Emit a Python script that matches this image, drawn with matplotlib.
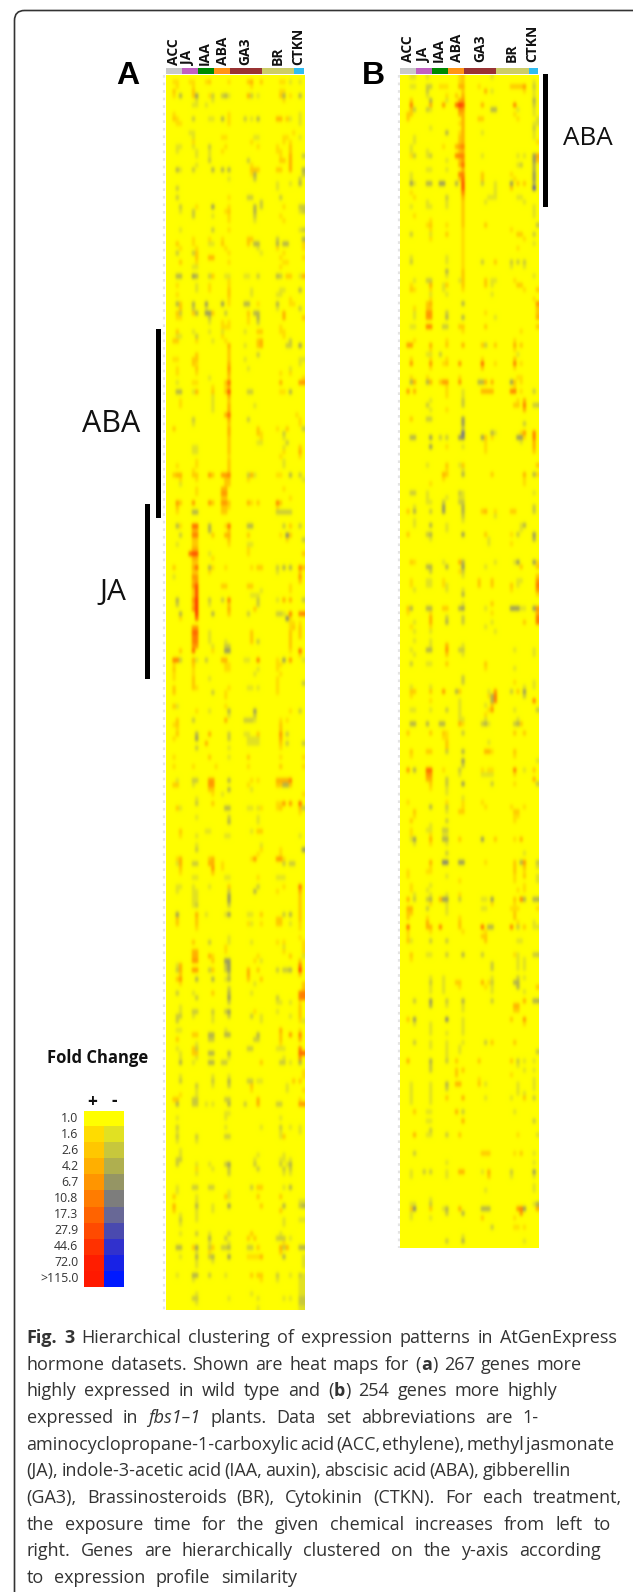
import re
import numpy as np
import matplotlib
matplotlib.use("Agg")
import matplotlib.pyplot as plt
from matplotlib.colors import LinearSegmentedColormap, Normalize
from matplotlib.path import Path
from matplotlib.patches import PathPatch, Rectangle

W, H = 633, 1592

# ---------- categories ----------
TREATMENTS = ["ACC", "JA", "IAA", "ABA", "GA3", "BR", "CTKN"]
TREATMENT_COLUMNS = [5, 5, 5, 5, 10, 10, 3]
TREATMENT_COLORS = ["#c8c8c8", "#c060c0", "#008a00", "#ff9414", "#993333", "#cccc66", "#30bcf0"]
A_GENES, B_GENES = 267, 254

FOLD_LEVELS = [1.0, 1.6, 2.6, 4.2, 6.7, 10.8, 17.3, 27.9, 44.6, 72.0, 115.0]
LEGEND_LABELS = ["1.0", "1.6", "2.6", "4.2", "6.7", "10.8", "17.3", "27.9", "44.6", "72.0", ">115.0"]
UP_COLORS = ["#ffff00", "#ffdc00", "#ffc800", "#ffaf00", "#ff9600", "#ff7d00", "#ff6400", "#ff4b00", "#ff3200", "#ff1e00", "#ff1900"]
DOWN_COLORS = ["#ffff00", "#e1e123", "#c8c83c", "#afaf50", "#969664", "#7d7d7d", "#696996", "#4b4baf", "#3232cd", "#1923e6", "#0019ff"]

# ---------- heat map A: (gene row, {column: signed fold change}) ----------
A_TOP = [
 (1,{2:1.6,3:1.6,7:1.6,8:1.6,12:1.6,13:2.6,19:1.6,25:2.6,26:4.2,29:2.6,35:1.6,36:1.6,38:-1.6,41:-1.6}),
 (2,{3:1.6,8:1.6,26:1.6}),(3,{2:2.6,8:2.6,35:1.6,36:1.6}),
 (4,{2:1.6,4:-4.2,8:2.6,9:-6.7,13:1.6,14:-2.6,17:-2.6,18:-4.2,19:-1.6,25:4.2,26:-2.6,28:-1.6,35:2.6,36:-4.2,38:1.6,41:-4.2}),
 (5,{9:-1.6,14:-1.6,36:1.6}),(6,{8:-1.6,9:-1.6,12:-1.6}),
 (8,{2:1.6,19:1.6,41:-1.6}),(9,{2:2.6,3:1.6,8:-2.6,13:-1.6,14:-1.6,17:-4.2,19:1.6,24:-2.6,26:-1.6,28:-4.2,34:4.2,35:4.2,37:2.6,38:-1.6,41:-1.6}),
 (10,{3:1.6,4:1.6,19:1.6,41:-1.6}),(12,{7:-1.6,8:-1.6,39:1.6}),(13,{8:-1.6,17:1.6,18:1.6,27:-1.6,28:-1.6,36:1.6,37:1.6,41:-1.6}),
 (14,{8:1.6,26:1.6,36:1.6,38:1.6}),(15,{3:-1.6,4:-1.6,8:-1.6,13:-2.6,18:1.6,28:1.6,34:1.6,38:2.6}),
 (16,{3:-1.6,9:-1.6,13:-1.6,17:1.6,34:1.6,35:1.6,38:2.6}),(17,{13:-1.6,9:-1.6,38:4.2,42:-2.6,35:1.6}),
 (18,{13:-2.6,25:-2.6,35:2.6,36:2.6,38:4.2}),(19,{9:-1.6,38:4.2,26:1.6}),
 (20,{3:-4.2,4:-1.6,8:-2.6,14:-4.2,17:-4.2,19:-4.2,26:2.6,27:2.6,28:2.6,34:2.6,35:2.6,38:4.2,42:-4.2}),
 (21,{26:1.6,27:-4.2,42:-2.6}),(22,{19:-1.6,27:-2.6,41:-2.6}),(23,{34:-1.6,38:-1.6,41:-4.2}),(24,{3:-2.6,34:-1.6}),
 (26,{3:-2.6,19:1.6,25:-2.6,26:-2.6,35:-2.6}),(27,{29:-2.6}),
 (28,{4:-2.6,9:1.6,14:-6.7,19:1.6,27:-4.2,29:-2.6,36:1.6,41:-2.6,42:-2.6}),(29,{4:-1.6,8:-2.6,18:1.6,19:2.6,27:-4.2,42:-2.6,41:-1.6}),
 (30,{8:-2.6,14:-1.6,27:-2.6,19:1.6,35:1.6}),(31,{19:1.6,27:-1.6,36:1.6}),(33,{4:-1.6,14:-2.6,42:-2.6,41:-1.6,19:1.6}),
 (35,{8:1.6,13:1.6,17:1.6,25:2.6,26:2.6,34:-2.6,42:-4.2}),
 (36,{3:2.6,8:1.6,13:-1.6,14:-1.6,17:2.6,25:2.6,27:-4.2,28:-4.2,34:-4.2,36:-4.2,37:-4.2,42:1.6}),
 (37,{4:1.6,9:1.6,18:1.6,28:-1.6,34:1.6,42:1.6}),(38,{3:-2.6,8:-2.6,9:2.6,29:-1.6,19:1.6,36:1.6}),
 (39,{9:2.6,13:4.2,14:4.2,35:1.6,42:1.6}),(40,{4:2.6,9:1.6,19:1.6,36:1.6,37:1.6}),(41,{8:-1.6,9:-1.6,35:1.6}),
 (43,{3:-4.2,4:-4.2,8:-6.7,9:-4.2,13:-2.6,14:2.6,18:-1.6,19:-1.6,24:-1.6,25:-1.6,28:-2.6,34:-4.2,35:-2.6,37:2.6,38:2.6,41:-1.6,42:4.2}),
 (44,{19:1.6}),(45,{3:1.6,9:-1.6,13:1.6,19:1.6}),(46,{9:-1.6,13:1.6,19:2.6,26:-1.6,35:-1.6,36:-1.6,41:-4.2}),
 (47,{3:1.6,19:2.6,26:-1.6,34:-1.6,35:-1.6}),(48,{19:1.6,38:1.6}),
 (49,{3:-4.2,4:2.6,8:-4.2,12:-6.7,17:-6.7,19:1.6,24:-4.2,25:-4.2,28:1.6,34:-4.2,38:1.6,39:1.6}),(50,{4:2.6,8:-2.6,12:-1.6,41:-2.6,34:-1.6}),
 (51,{3:2.6,4:-2.6,9:-4.2,8:2.6,12:-6.7,13:-6.7,14:2.6,18:-2.6,25:2.6,27:-4.2,28:-4.2,36:4.2}),
 (52,{3:1.6,4:1.6,13:-2.6,25:1.6,28:-4.2,36:4.2,42:2.6}),(53,{13:-1.6,17:1.6,25:1.6,28:-2.6,19:1.6}),(54,{17:1.6,18:1.6,19:1.6,35:1.6}),
 (55,{3:2.6,8:-1.6,13:-1.6,17:-1.6,24:-1.6,28:2.6,29:2.6,36:1.6,35:1.6}),(56,{3:-1.6,4:-1.6,9:-2.6,17:1.6,36:1.6}),
 (57,{2:2.6,3:2.6,9:1.6,14:-1.6,18:1.6,28:2.6,29:4.2,38:-2.6}),
 (58,{19:4.2,24:-1.6,28:2.6,29:4.2,37:-2.6,38:-2.6,41:-6.7}),(59,{19:2.6}),(60,{9:2.6,19:2.6,28:-2.6}),
 (61,{2:1.6,3:1.6,8:2.6,9:2.6,19:2.6,41:-1.6,42:-1.6,24:-1.6}),(62,{8:2.6,9:1.6,19:4.2,41:-1.6}),(63,{3:1.6,9:2.6,19:6.7,25:-1.6,38:-1.6}),
 (64,{3:1.6,9:1.6,19:4.2,38:1.6,35:1.6}),(65,{19:2.6,13:-1.6,42:1.6}),
 (66,{3:-1.6,8:1.6,9:1.6,18:2.6,19:17.3,35:4.2,41:6.7,42:6.7}),(67,{19:4.2,18:1.6,14:1.6}),
 (68,{3:-4.2,4:-4.2,8:-1.6,9:4.2,14:2.6,18:2.6,19:27.9,25:-2.6,26:-2.6,35:1.6,36:1.6,38:-4.2}),(69,{19:4.2,14:-1.6}),
 (70,{14:-1.6,19:2.6,4:1.6}),(71,{4:1.6,14:-1.6,19:4.2,27:-1.6}),(72,{19:4.2,14:-1.6}),(73,{18:4.2,19:17.3,40:1.6}),
 (74,{8:-2.6,19:4.2,25:-2.6,41:1.6}),(75,{8:-1.6,19:2.6,41:1.6}),(76,{2:2.6,19:4.2,28:2.6,34:1.6,37:2.6,42:-2.6}),
 (77,{19:4.2,28:2.6,29:1.6,36:-2.6}),(78,{19:2.6,29:1.6,36:-1.6}),(79,{19:2.6,28:-1.6,29:-1.6,37:-2.6}),
 (80,{8:-1.6,9:-1.6,19:2.6,36:-1.6,41:2.6}),(81,{8:-1.6,9:-1.6,19:2.6,36:1.6,41:4.2}),(82,{19:1.6,41:1.6,35:1.6}),
 (83,{9:1.6,19:2.6,36:-1.6}),(84,{3:1.6,9:1.6,19:2.6,36:-1.6}),(85,{19:2.6,8:1.6}),
 (86,{2:2.6,3:4.2,4:4.2,8:2.6,9:2.6,13:6.7,14:2.6,17:6.7,18:6.7,19:10.8,25:-2.6,26:4.2,27:-1.6,34:1.6,35:1.6,38:-4.2,41:-2.6}),
 (87,{4:1.6,9:1.6,18:2.6,19:2.6,25:1.6,42:-1.6}),(88,{18:2.6,19:2.6,4:-1.6}),
]
A_MIDDLE = [
 (89,{9:1.6,17:4.2,18:4.2,36:1.6}),(90,{17:6.7,18:6.7,9:1.6}),(91,{17:2.6,18:2.6,38:1.6}),
 (92,{3:6.7,4:2.6,8:6.7,13:6.7,14:2.6,17:6.7,18:6.7,19:2.6,25:4.2,26:1.6,28:2.6,34:10.8,35:2.6}),
 (93,{3:2.6,17:2.6,18:2.6,19:1.6,34:1.6}),(94,{3:1.6,8:-4.2,9:-4.2,17:2.6,18:2.6,34:-2.6,35:-2.6,36:-2.6,37:-2.6,38:-2.6}),
 (97,{3:-4.2,4:1.6,8:17.3,9:17.3,13:-4.2,18:1.6,19:17.3,25:-4.2,26:-4.2,36:-2.6,38:2.6,41:-2.6}),
 (98,{8:4.2,9:4.2,13:-4.2,19:2.6}),
 (99,{4:-2.6,8:10.8,9:10.8,14:2.6,18:4.2,19:4.2,25:2.6,35:1.6,37:-10.8,38:2.6}),
 (100,{9:2.6,8:2.6,19:2.6,42:-2.6,37:1.6}),(101,{3:-1.6,9:2.6,8:2.6,25:-1.6,26:-1.6,19:1.6}),
 (102,{8:4.2,9:4.2,25:1.6}),(103,{7:17.3,8:27.9,9:27.9,13:-1.6,25:1.6,42:2.6}),
 (104,{8:4.2,9:4.2,14:1.6}),(105,{8:2.6,9:2.6}),(106,{2:2.6,8:4.2,9:17.3,13:-4.2,14:1.6,18:1.6,26:1.6,28:2.6,29:2.6,34:-2.6,36:-4.2,38:-4.2,41:10.8,42:2.6}),
 (107,{8:2.6,9:2.6,13:1.6,34:-1.6,41:2.6}),(108,{8:6.7,9:6.7,2:-1.6,41:6.7}),(109,{8:4.2,9:6.7,41:2.6}),
 (110,{8:6.7,9:27.9,17:2.6,18:2.6,25:2.6,26:2.6,38:1.6}),(111,{9:27.9,8:2.6,29:-1.6,38:1.6}),(112,{9:27.9,8:2.6,26:-1.6,27:-1.6,28:-1.6}),
 (113,{3:-4.2,8:6.7,9:44.6,13:-2.6,17:-2.6,19:10.8,28:-2.6,34:-1.6,36:4.2,38:4.2,42:-2.6}),
 (114,{3:-2.6,8:4.2,9:44.6,13:-1.6,19:2.6,28:-2.6}),(115,{8:6.7,9:44.6,19:4.2,27:2.6}),
 (116,{4:-4.2,9:44.6,14:-4.2,19:2.6,25:-2.6,34:-2.6,35:-2.6,36:-1.6,38:10.8,41:10.8,42:10.8}),
 (117,{9:17.3,37:-10.8,4:1.6,38:1.6}),(118,{38:1.6,39:1.6,41:1.6}),(119,{8:6.7,9:6.7,39:2.6,38:1.6,41:2.6}),
 (120,{8:17.3,9:17.3,13:-1.6,26:2.6,38:2.6,41:2.6}),(121,{8:10.8,9:10.8,26:2.6,13:-1.6,38:2.6,41:2.6}),(122,{8:10.8,9:10.8,13:-1.6,26:2.6,28:-2.6,38:2.6,18:-1.6}),
 (123,{8:6.7,9:6.7,18:-2.6,19:-2.6,14:-1.6,38:2.6}),(124,{8:17.3,4:2.6,14:1.6,18:-6.7,19:-6.7,41:17.3,38:1.6}),(125,{41:1.6}),
 (126,{2:10.8,3:10.8,4:-2.6,8:4.2,9:-1.6,12:-2.6,17:4.2,18:4.2,24:-1.6,25:-1.6,28:10.8,34:1.6,36:-6.7,38:6.7,42:-1.6}),
 (127,{2:1.6,8:2.6,18:1.6,19:1.6,34:1.6,35:1.6}),(128,{2:2.6,8:1.6,18:1.6,19:1.6,28:-1.6,34:1.6}),
 (129,{2:1.6,8:1.6,27:-1.6,35:1.6}),(130,{2:1.6,13:-1.6,8:2.6,34:1.6}),(131,{8:2.6,34:1.6,42:-2.6}),
 (132,{2:2.6,8:2.6,9:1.6,19:1.6,25:-1.6,26:-1.6,28:-1.6,34:1.6}),(133,{2:2.6,14:-2.6,18:1.6,34:1.6}),(134,{18:1.6}),
 (136,{2:2.6,3:-1.6,18:1.6}),(137,{19:-4.2,27:-6.7,38:1.6,41:-2.6,9:1.6,13:-1.6}),(138,{19:-1.6,27:-2.6}),
 (139,{3:2.6,8:-2.6,18:4.2,24:-2.6,25:-2.6,26:-2.6,27:-1.6,35:1.6,37:1.6}),(140,{3:2.6,2:1.6,35:2.6}),(141,{3:1.6,35:2.6}),
 (142,{3:2.6,9:-4.2,13:4.2,19:-2.6,24:-1.6,25:-1.6,28:2.6,35:6.7,37:-2.6}),
 (143,{2:1.6,9:-6.7,19:-2.6,35:4.2,25:-1.6,26:-1.6,27:-1.6,28:-1.6}),(144,{12:4.2,25:-1.6,26:-1.6,27:-1.6,28:-1.6,35:2.6,37:-2.6,42:-2.6}),
 (145,{9:-2.6,19:-1.6,35:1.6}),(147,{2:1.6,13:2.6,19:-1.6,25:2.6,42:1.6,35:1.6}),(149,{2:1.6,8:1.6,15:1.6,25:1.6,42:1.6,35:2.6}),
 (152,{3:-1.6,8:-2.6,9:-2.6,13:6.7,14:6.7,19:-4.2,26:1.6,28:1.6,34:4.2,35:4.2,36:4.2,37:4.2,38:10.8}),
 (153,{2:2.6,3:2.6,8:-1.6,13:6.7,14:6.7,25:1.6,34:2.6,35:2.6,36:-4.2,37:-4.2,38:2.6}),(154,{13:2.6,14:2.6,19:-4.2,26:-1.6}),
 (155,{17:-1.6,14:1.6,42:1.6}),(156,{9:-1.6}),(157,{9:-2.6,14:2.6,34:1.6,35:1.6,36:6.7,38:6.7,41:17.3}),
 (158,{3:2.6,4:-1.6,18:-4.2,19:-4.2,25:-1.6,26:-1.6,28:-1.6,29:1.6,34:1.6,35:2.6,42:-2.6,41:2.6}),(159,{41:1.6}),
 (160,{9:-1.6,19:-2.6,28:-1.6}),(161,{19:-4.2,28:-1.6}),(163,{4:2.6,12:-1.6,13:-1.6,26:-1.6,28:2.6,29:2.6}),(164,{4:1.6,9:-1.6,18:-1.6,19:-1.6,41:-1.6}),
 (166,{9:-1.6,29:-1.6}),(167,{9:-2.6,29:1.6,42:-6.7,35:1.6}),(168,{28:1.6,35:1.6}),
 (169,{3:1.6,4:4.2,13:2.6,14:4.2,26:1.6,27:6.7,34:6.7,35:6.7,36:1.6}),(170,{3:-1.6,4:4.2,8:-2.6,9:-2.6,13:4.2,14:4.2,17:1.6,38:-2.6,39:-2.6,36:-2.6}),
 (171,{4:2.6,14:6.7,17:1.6}),(172,{4:1.6,14:2.6}),(173,{8:-1.6,9:-1.6,18:-1.6,19:-1.6,28:1.6,34:-1.6,35:-1.6,36:-1.6}),
 (175,{3:-1.6,4:-1.6,8:-1.6,13:-1.6,19:2.6,28:-2.6,36:1.6,41:17.3}),(176,{3:-1.6,8:-1.6,9:-1.6,19:-2.6,27:-4.2,34:1.6,41:4.2}),
 (177,{9:-1.6,19:-6.7,41:2.6,8:-1.6}),(178,{8:-1.6,9:-1.6,19:-6.7,41:2.6}),
]
A_BOTTOM = [
 (179,{9:-2.6,19:-2.6,41:2.6,8:-1.6}),(180,{41:2.6}),
 (181,{3:-6.7,9:4.2,12:-1.6,18:-1.6,19:-6.7,25:-1.6,26:-1.6,29:2.6,36:-2.6,38:-4.2,41:2.6}),
 (182,{3:2.6,9:2.6,35:2.6,34:2.6,41:2.6}),(183,{3:2.6,9:2.6,35:2.6,34:2.6,25:1.6,26:-1.6,29:1.6,38:-1.6,41:1.6}),(184,{9:1.6,41:1.6}),
 (186,{19:-1.6,41:1.6}),(187,{8:2.6,13:-2.6,19:-1.6,26:-1.6,34:1.6,36:1.6,42:1.6}),(188,{18:1.6,36:-1.6,42:1.6}),
 (189,{8:4.2,9:4.2,18:1.6,36:1.6,42:1.6}),(190,{8:4.2,9:4.2,13:4.2,28:1.6,38:2.6,42:-1.6,14:1.6}),
 (191,{8:6.7,9:6.7,14:2.6,18:-6.7,19:-6.7,27:1.6,29:-1.6,41:2.6}),(192,{3:-1.6,4:4.2,19:-6.7,41:10.8,18:-2.6}),
 (193,{3:-2.6,4:4.2,8:6.7,9:6.7,13:-2.6,14:2.6,18:-2.6,19:-6.7,25:4.2,28:2.6,34:-2.6,36:-2.6,37:-2.6,38:-4.2,41:44.6}),
 (194,{4:2.6,25:4.2,19:-2.6,41:2.6}),(195,{3:2.6,4:6.7,9:-4.2,14:-4.2,18:-1.6,19:-4.2,25:2.6,29:2.6}),(196,{4:1.6,27:-1.6,42:2.6}),
 (197,{19:-2.6,42:2.6}),(198,{3:-2.6,8:-1.6,14:2.6,19:-4.2,26:-1.6,41:10.8,42:10.8}),(199,{9:-2.6,19:-6.7,34:-2.6,41:10.8,42:10.8}),
 (200,{19:-2.6,34:-1.6,35:-1.6,38:-1.6,41:1.6}),(201,{4:-1.6,41:2.6}),(202,{4:-1.6,8:-2.6,9:-2.6,14:-2.6,18:-2.6,19:-6.7,27:1.6,34:-1.6,41:2.6}),
 (203,{3:-2.6,4:-2.6,8:-1.6,14:-1.6,19:-2.6,26:-2.6,29:-1.6,38:-1.6,41:2.6}),(204,{3:-2.6,14:-1.6,29:-1.6,42:-1.6,41:1.6}),
 (206,{3:-1.6,4:-1.6,18:-1.6,35:4.2,41:1.6}),(207,{8:2.6,9:2.6,13:-4.2,14:-4.2,18:-4.2,19:-4.2,28:-4.2,38:6.7,41:10.8,35:2.6}),
 (208,{3:2.6,13:-2.6,14:-2.6,27:-2.6,28:-2.6,35:2.6,41:4.2}),(209,{35:1.6,9:-1.6}),
 (210,{3:-1.6,8:2.6,9:-2.6,25:-2.6,26:-2.6,34:-1.6,35:-1.6,36:-1.6,41:10.8}),(211,{4:-1.6,8:2.6,9:2.6,13:-4.2,14:-4.2,19:-4.2,41:17.3,42:17.3}),
 (212,{4:-1.6,9:-1.6,19:-1.6,36:-1.6,41:6.7}),(213,{4:-4.2,8:-1.6,13:-4.2,14:-4.2,17:-2.6,18:-2.6,29:2.6,35:-2.6,36:-2.6,38:-1.6,41:-4.2}),
 (215,{42:1.6}),(216,{4:-1.6,14:-1.6,19:-1.6,42:1.6}),(217,{4:-2.6,14:-2.6,19:-4.2,25:-2.6,26:-2.6,28:-1.6,29:-1.6,39:2.6,41:2.6}),
 (218,{9:-2.6,14:-1.6,19:-2.6,26:2.6,37:-1.6}),(219,{9:-1.6,26:1.6,37:-1.6,42:1.6}),(220,{9:-1.6,4:1.6}),
 (221,{2:2.6,3:2.6,8:-2.6,9:-2.6,18:-2.6,19:-2.6,28:4.2,41:1.6}),(222,{3:-4.2,8:-2.6,9:-2.6,12:-1.6,14:-1.6,19:-4.2,24:-2.6,28:4.2,34:-2.6,35:-2.6,41:6.7,42:6.7}),
 (224,{18:-1.6,19:-1.6}),(225,{3:-1.6,18:-1.6,35:-1.6}),(227,{3:-2.6,18:-1.6,29:-1.6,35:-2.6,38:-1.6,41:-1.6}),(228,{3:-1.6,35:-1.6,41:-1.6}),
 (229,{3:-2.6,9:-2.6,18:-2.6,19:-2.6,35:-1.6,36:2.6}),(230,{3:-1.6,9:-1.6}),(232,{4:-1.6}),(233,{4:-1.6,28:-1.6,36:-1.6}),
 (234,{3:-2.6,4:-2.6,27:-1.6,35:-1.6,36:-1.6,38:-1.6}),(235,{3:-2.6,9:-1.6,13:-1.6,18:-2.6,19:-6.7,27:-2.6,35:-2.6,37:-1.6,38:-4.2}),
 (236,{9:1.6,14:-1.6,28:-2.6,36:-2.6,38:-2.6,19:-2.6}),(237,{9:-1.6,19:-2.6,36:-1.6,38:-1.6}),
 (240,{3:-1.6,8:-2.6,9:-2.6,13:-2.6,14:-2.6,26:-2.6,28:2.6,29:2.6,36:-1.6,38:-4.2}),(241,{3:-1.6,19:-1.6}),
 (242,{2:2.6,9:-1.6,18:2.6,19:-1.6,28:2.6,35:2.6}),(243,{9:-1.6,42:-1.6,41:-1.6}),
 (244,{2:4.2,9:-4.2,14:-1.6,19:-6.7,29:2.6,36:-4.2,41:-2.6,42:-4.2}),(245,{2:2.6,9:-1.6,14:-1.6,35:2.6}),(246,{4:-1.6,9:-1.6}),
 (247,{4:-2.6,9:-1.6,36:-1.6,41:-1.6,42:-1.6}),(248,{4:-1.6,36:-1.6}),
 (250,{4:-1.6,9:-2.6,13:-1.6,19:-2.6,26:2.6,35:-1.6}),(251,{13:-4.2,18:-2.6,25:2.6,27:2.6,34:-2.6,35:-2.6,36:-2.6,38:-1.6}),(252,{13:-1.6,19:-1.6,36:1.6}),
 (253,{3:-4.2,4:-4.2,8:2.6,9:-6.7,13:-2.6,14:2.6,17:-2.6,18:-2.6,19:-4.2,25:-2.6,26:-2.6,28:2.6,35:4.2,36:-2.6,37:4.2,41:-4.2,42:-4.2}),
 (254,{9:-1.6,13:1.6,35:2.6}),(255,{4:-1.6,9:-4.2,13:-2.6,14:-4.2,19:-6.7,25:1.6,26:1.6,27:1.6,28:1.6,29:4.2,36:-4.2,42:-1.6}),
 (256,{9:-1.6,14:-1.6,42:-1.6}),(257,{9:-1.6,42:-1.6}),(259,{3:-1.6,8:-4.2,9:-4.2,13:-2.6,18:-1.6,26:2.6,28:2.6,29:2.6,34:-2.6,38:-1.6,41:-2.6,42:-1.6}),
 (260,{8:-1.6,29:1.6,34:-1.6,42:-1.6,41:-1.6}),(261,{41:-1.6,42:-1.6}),(262,{41:-1.6,42:-1.6}),(263,{9:-1.6,41:-1.6,42:-1.6,26:-1.6}),
 (264,{8:-2.6,9:-2.6,19:-1.6,28:-1.6,36:-1.6,38:-1.6,41:-2.6,42:-2.6}),(265,{9:-1.6,41:-2.6,42:-2.6}),(266,{41:-1.6,42:-1.6,28:-1.6}),
]

# ---------- heat map B ----------
B_TOP = [
 (0,{3:-1.6,4:-1.6,8:-1.6,19:2.6,28:-1.6,18:1.6}),(1,{19:2.6,18:1.6,41:-1.6}),
 (2,{3:-1.6,4:-1.6,8:-2.6,9:-2.6,12:1.6,13:1.6,14:1.6,18:4.2,19:4.2,24:1.6,34:2.6,35:2.6,36:2.6,37:2.6,38:6.7,41:-2.6}),
 (3,{8:-2.6,19:2.6,26:4.2,28:-1.6,38:1.6,41:-1.6}),(4,{8:-1.6,14:1.6,17:2.6,19:4.2,41:-1.6}),
 (5,{3:2.6,9:-4.2,14:-1.6,18:4.2,19:6.7,41:-4.2}),
 (6,{3:10.8,9:4.2,13:6.7,17:17.3,18:44.6,19:27.9,25:4.2,35:10.8,41:-2.6}),
 (7,{3:2.6,4:-2.6,8:-2.6,9:-1.6,18:6.7,19:6.7,28:-4.2,29:-4.2,36:-1.6,41:-1.6}),
 (8,{2:2.6,3:2.6,18:4.2,19:4.2,35:1.6,41:-1.6}),(9,{2:2.6,19:4.2,24:2.6,25:2.6,36:1.6,42:-1.6}),
 (10,{19:4.2,18:1.6,41:-1.6,42:-1.6}),(11,{9:-1.6,19:4.2,41:-2.6}),(12,{14:-4.2,19:4.2,25:-1.6,18:1.6,41:-1.6}),(13,{4:-1.6,19:4.2,18:2.6,41:-1.6}),
 (14,{4:-1.6,18:2.6,19:4.2,42:1.6}),(15,{3:-1.6,13:1.6,17:4.2,18:6.7,19:10.8}),(16,{18:2.6,19:4.2,3:-1.6,8:-1.6}),
 (17,{3:1.6,4:-2.6,8:-1.6,9:-2.6,17:10.8,18:10.8,19:10.8,25:-1.6,36:-1.6,38:-1.6,41:-6.7,42:4.2}),
 (18,{19:6.7,18:2.6,14:-1.6,41:-6.7,42:2.6}),(19,{18:4.2,19:17.3,36:-1.6,37:-2.6,41:-4.2}),
 (20,{8:-1.6,9:-1.6,14:-1.6,19:4.2,41:-4.2}),(21,{3:-1.6,18:10.8,19:10.8,25:2.6,41:-6.7,34:1.6}),
 (22,{3:-1.6,19:17.3,18:2.6,25:2.6,41:-6.7,35:1.6}),
 (23,{3:-6.7,4:-1.6,8:-4.2,9:-4.2,12:-6.7,13:-6.7,17:-4.2,19:27.9,25:-2.6,29:-1.6,34:-6.7,36:2.6,38:2.6,41:-4.2}),
 (24,{19:27.9,29:-1.6,34:2.6,41:-27.9}),(25,{19:10.8,3:1.6,29:-1.6}),
 (26,{14:-2.6,19:4.2,27:-1.6,28:-1.6,29:-1.6,36:-1.6,37:-1.6,4:1.6}),(27,{8:-1.6,19:2.6,26:-1.6,38:-1.6,14:-1.6}),
 (28,{3:-1.6,8:-1.6,9:-1.6,14:-1.6,19:2.6,41:-1.6}),(29,{19:2.6,41:-1.6}),(30,{19:2.6,4:1.6,41:-1.6}),(31,{9:1.6,19:2.6}),
 (32,{8:1.6,9:2.6,19:2.6,26:2.6,42:-2.6,14:1.6}),(33,{9:1.6,19:1.6,34:1.6}),(34,{3:-2.6,9:-1.6,14:2.6,19:1.6,36:2.6,37:2.6,41:-2.6}),
 (35,{9:1.6,19:1.6,38:1.6}),(36,{19:1.6,41:-1.6}),(37,{19:1.6,36:1.6}),(38,{19:1.6}),(39,{3:-1.6,14:-1.6,19:1.6}),
 (40,{3:-2.6,14:-1.6,19:1.6,25:-2.6,29:2.6,34:-2.6,36:-2.6,38:-2.6}),(41,{19:1.6,34:-1.6,38:-1.6}),(42,{14:-4.2,19:2.6}),(43,{14:-1.6,19:2.6,41:-1.6}),
 (44,{4:-1.6,8:-2.6,9:-2.6,18:-1.6,19:2.6,26:2.6,28:-1.6,29:-1.6,35:1.6}),
 (45,{9:4.2,14:2.6,19:2.6,26:2.6,28:-1.6,36:2.6,37:2.6,3:1.6,13:-1.6}),(46,{3:2.6,4:1.6,9:1.6,13:-1.6,19:1.6,38:1.6,42:2.6}),
 (47,{14:-1.6,9:-1.6,28:-1.6}),(48,{9:1.6,41:1.6}),(49,{8:2.6,9:4.2,19:-4.2,42:6.7}),
 (50,{8:2.6,9:2.6,42:2.6,4:1.6}),(51,{4:-1.6,8:6.7,9:6.7,14:-2.6,26:1.6,42:2.6}),(52,{4:-1.6,8:6.7,9:6.7,14:-4.2,19:-4.2,29:-1.6,42:4.2}),
 (54,{3:-1.6,4:-1.6,8:10.8,9:10.8,13:-2.6,14:-2.6,18:2.6,19:2.6,26:2.6,42:2.6}),(55,{19:1.6,37:1.6}),
 (57,{4:1.6,14:1.6,35:1.6}),(58,{2:6.7,3:6.7,9:4.2,14:2.6,19:4.2,25:2.6,26:-2.6,29:2.6,35:4.2,37:2.6}),(59,{9:1.6,35:1.6}),
 (60,{8:-1.6,9:-1.6,12:-2.6,36:-1.6}),(61,{3:1.6,9:1.6,14:1.6,25:1.6,35:2.6}),
 (62,{3:6.7,9:6.7,13:1.6,14:2.6,18:6.7,25:17.3,29:1.6,35:10.8,37:1.6}),(63,{25:2.6,9:1.6,35:1.6}),
 (65,{3:1.6,8:1.6,18:1.6,36:1.6,37:1.6}),
 (66,{3:-4.2,4:4.2,8:-4.2,9:4.2,12:2.6,13:6.7,14:6.7,18:6.7,24:-4.2,25:-4.2,26:4.2,28:4.2,34:-6.7,35:2.6,37:1.6}),
 (67,{14:1.6,35:1.6}),(68,{2:6.7,4:4.2,14:1.6,19:-1.6,25:4.2,26:4.2,27:4.2,28:4.2,34:10.8,35:10.8,37:1.6,41:-2.6}),(69,{14:1.6,19:-1.6}),
 (70,{9:-1.6,19:-2.6,38:4.2,36:1.6}),(71,{8:-2.6,19:-2.6,35:2.6,36:2.6,38:10.8,41:-2.6,42:-2.6}),(72,{9:-1.6,14:1.6,38:4.2}),
 (74,{3:2.6,8:-2.6,9:-2.6,19:-6.7}),(75,{19:-6.7,38:-2.6}),(76,{19:-2.6}),
 (77,{19:-17.3,28:-4.2,29:-1.6,37:1.6,38:6.7,41:10.8}),
 (78,{3:-4.2,4:-4.2,9:-6.7,12:-2.6,14:-2.6,18:-6.7,19:-10.8,25:-6.7,26:2.6,28:1.6,36:-6.7,37:-6.7,38:1.6,41:10.8}),
 (79,{26:1.6,41:4.2,37:-1.6}),(80,{9:-6.7,19:-1.6,26:1.6,41:4.2,14:1.6}),(81,{26:1.6,41:2.6}),
 (84,{8:-1.6,14:2.6,18:-1.6,19:2.6,42:2.6}),
]
B_MIDDLE = [
 (85,{14:1.6,19:-1.6}),(86,{13:4.2,14:2.6,19:-4.2,28:2.6,38:4.2,41:-4.2,42:1.6}),(87,{13:1.6,38:1.6}),(88,{9:1.6,38:1.6}),
 (90,{3:-2.6,4:-2.6,8:-1.6,18:-2.6,19:-1.6,41:-1.6}),(91,{8:-1.6,14:-1.6,18:-1.6,19:-1.6}),(92,{8:-1.6,9:-1.6,13:-2.6,18:-2.6,19:-2.6}),
 (93,{4:-1.6,13:-6.7,19:-4.2,41:-2.6}),(94,{2:2.6,4:-4.2,9:-2.6,13:-6.7,19:-4.2,25:2.6,26:4.2,29:1.6,34:2.6,35:2.6,41:-2.6}),
 (95,{19:-2.6,29:-1.6}),(96,{19:-1.6,4:-1.6}),(97,{4:-1.6,9:-4.2,14:-1.6,37:-1.6,38:-4.2}),(98,{14:-1.6,37:-1.6}),
 (99,{2:2.6,8:-2.6,9:-4.2,19:-6.7,26:2.6,34:1.6,36:-2.6,41:-6.7}),(100,{9:-1.6,27:-1.6,41:-4.2}),(101,{27:-1.6,34:1.6}),
 (105,{3:2.6,4:1.6,13:-1.6,18:4.2,19:-4.2,29:-1.6,35:-1.6,36:-6.7,41:-6.7,42:1.6}),(106,{8:-4.2,9:-4.2,14:-4.2,19:-6.7,26:-1.6,37:2.6,42:2.6}),
 (107,{9:-2.6,19:-2.6,18:1.6}),(108,{19:-1.6,42:2.6}),(109,{3:1.6,8:-1.6,9:-1.6,13:1.6,24:2.6,28:2.6,36:-1.6,37:-1.6,42:6.7}),
 (110,{3:1.6,8:-1.6,9:-1.6,13:1.6,14:-1.6,24:2.6,28:2.6,34:2.6,36:-1.6,42:10.8}),(111,{4:-1.6,14:-1.6,19:-1.6,34:1.6,42:6.7}),(112,{19:-4.2,42:1.6}),
 (114,{19:-1.6,28:2.6}),(115,{2:2.6,3:-4.2,8:-4.2,9:-4.2,13:2.6,14:2.6,18:-4.2,19:-6.7,26:-1.6,34:-6.7,35:-6.7,36:-6.7,37:-1.6,38:-1.6,41:-6.7,42:6.7}),
 (116,{2:1.6,9:1.6,28:1.6,42:4.2}),(117,{9:4.2,14:-2.6,19:-2.6,42:10.8}),(118,{4:-1.6,9:4.2,14:-4.2,19:-2.6,28:-1.6,38:2.6,42:10.8}),
 (119,{9:1.6,3:1.6,26:-1.6}),(120,{4:-1.6,9:-1.6,29:-1.6}),(122,{4:-1.6,9:-1.6}),(123,{14:4.2,9:-1.6,19:-1.6}),
 (124,{3:-1.6,8:-4.2,9:-4.2,14:6.7,18:-2.6,19:-2.6,35:-1.6,41:-1.6}),(125,{14:2.6,4:-1.6,19:-1.6,41:-1.6}),
 (127,{3:-2.6,8:-1.6,9:-1.6,14:2.6,26:2.6}),(128,{26:1.6,35:-1.6}),(130,{19:-2.6}),(131,{19:-2.6,35:1.6,41:-1.6}),
 (132,{3:-1.6,9:-1.6,38:-1.6,41:-1.6}),(133,{3:2.6,4:2.6,9:2.6,13:6.7,17:-4.2,18:2.6,27:-1.6,29:6.7,34:-2.6,36:2.6,38:-6.7}),
 (134,{3:1.6,28:-4.2,29:10.8,38:-2.6,27:1.6}),(135,{9:1.6,28:-4.2,29:10.8,41:10.8,18:-1.6}),(136,{18:-1.6,26:-1.6,28:2.6}),
 (137,{3:-1.6,4:-1.6,9:-1.6,14:-2.6,18:-1.6,27:1.6,28:6.7,35:-1.6,42:-2.6}),(138,{18:-1.6,26:1.6}),(139,{18:-1.6,19:-1.6,26:-1.6,36:-1.6}),
 (140,{3:-4.2,4:-4.2,8:-4.2,12:-4.2,13:-4.2,18:4.2,19:1.6,25:-2.6,26:-4.2,27:-1.6,35:-2.6,36:-4.2,37:2.6}),
 (142,{2:2.6,9:2.6,13:2.6,14:1.6,19:-2.6,35:2.6,38:2.6}),(143,{13:1.6,14:1.6}),(144,{14:2.6,27:-1.6}),(145,{14:2.6}),
 (146,{3:2.6,8:2.6,9:2.6,14:-2.6,19:-4.2,26:4.2,27:4.2,28:1.6,35:2.6}),(147,{3:1.6,35:1.6}),(148,{19:-6.7,42:-1.6}),(149,{19:-2.6}),
 (150,{2:6.7,4:-4.2,8:17.3,9:17.3,13:1.6,18:-2.6,25:1.6,27:1.6,28:1.6,35:10.8,38:-1.6,41:2.6}),
 (151,{8:6.7,9:6.7,18:-1.6,25:-1.6,26:-1.6,27:-1.6,28:-1.6,35:1.6}),(152,{8:4.2,9:4.2,14:-2.6,41:4.2}),
 (153,{9:2.6,14:-2.6,19:-6.7,28:-2.6,35:1.6,42:-2.6}),(154,{14:-1.6,9:1.6}),(155,{14:-1.6}),(156,{19:-1.6}),(157,{2:1.6,14:1.6,19:1.6,25:1.6}),
 (158,{9:-4.2,14:-2.6,19:1.6,26:1.6,34:1.6,38:1.6}),(159,{4:2.6,14:-1.6,18:2.6,19:2.6,35:2.6,36:2.6}),(160,{4:1.6,36:1.6,35:1.6}),
 (161,{3:2.6,14:-2.6,35:1.6}),(162,{9:-1.6}),(163,{3:1.6,8:-1.6,9:-1.6,13:-2.6,14:-2.6}),(164,{3:1.6,9:1.6,13:-1.6,14:-1.6}),
 (165,{3:-1.6,4:-6.7,9:4.2,13:-4.2,14:-4.2,18:2.6,25:-6.7,29:2.6,35:1.6,37:4.2}),(166,{4:-1.6,9:1.6,14:-1.6}),
 (168,{14:-2.6,38:-1.6}),(170,{9:4.2,13:-10.8,14:-10.8,18:-6.7,19:-6.7,26:1.6,35:2.6,37:-4.2,38:6.7,42:-2.6}),
]
B_BOTTOM = [
 (171,{9:1.6,35:2.6,38:2.6,42:-1.6}),(172,{2:1.6,8:1.6,9:1.6,38:1.6,35:2.6}),(173,{2:1.6,14:-1.6,35:1.6,38:2.6,42:-1.6}),(174,{18:1.6,35:1.6,42:-1.6}),
 (175,{3:1.6,9:-1.6,38:1.6}),(176,{3:1.6,8:-1.6,36:1.6,38:1.6}),(177,{4:-1.6,9:-1.6,14:-1.6,18:1.6}),
 (178,{2:4.2,4:-2.6,8:-2.6,9:-4.2,12:4.2,13:-6.7,14:-6.7,18:-2.6,25:-1.6,26:-1.6,28:-6.7,35:2.6,37:10.8,38:-4.2,41:-4.2,42:-4.2}),
 (179,{9:1.6,14:-1.6,28:1.6,35:1.6}),(180,{2:4.2,3:4.2,8:-2.6,14:-1.6,25:-1.6,26:-1.6,34:1.6,35:1.6,36:1.6,42:1.6}),(181,{2:2.6,3:2.6,14:-1.6,35:2.6}),(182,{2:2.6,8:1.6,35:2.6,18:1.6}),
 (183,{8:4.2,18:2.6,36:1.6,41:-1.6}),(184,{2:17.3,8:4.2,9:4.2,12:10.8,18:2.6,25:17.3,27:-4.2,28:-4.2,34:10.8,36:-2.6,38:2.6,41:-1.6,42:-1.6}),(185,{2:1.6,9:1.6,19:1.6,26:1.6}),
 (186,{2:1.6,25:2.6,26:2.6}),(187,{2:2.6,3:-1.6,9:-2.6,14:-2.6,26:2.6,36:-1.6,37:-1.6}),
 (190,{3:2.6,8:-1.6,9:-1.6,14:-2.6,19:-4.2,25:-2.6,35:1.6,36:-1.6,41:-2.6,42:-2.6}),(191,{3:1.6,36:-1.6,38:-1.6}),(192,{28:-2.6,36:-1.6,38:-1.6}),(193,{28:-2.6,36:-1.6,38:-1.6}),
 (195,{9:-1.6,13:-1.6,28:-1.6,36:-2.6,38:-1.6}),(196,{9:-2.6,13:-1.6,17:2.6,18:2.6,25:4.2,27:1.6,28:-2.6,35:-4.2,36:-4.2}),(197,{9:-1.6,13:-1.6,18:1.6,26:1.6,28:-1.6,36:-4.2,42:2.6}),
 (198,{9:-1.6,13:-1.6,28:-1.6,38:-1.6}),(200,{4:-2.6,9:-6.7,14:-2.6,19:-4.2,28:-2.6,38:4.2,41:-4.2,42:-4.2}),(201,{9:-4.2,14:-1.6,19:-1.6,35:4.2,36:4.2}),(202,{36:2.6,35:2.6,19:-1.6}),
 (204,{2:2.6,4:-6.7,14:-10.8,19:-1.6,34:2.6,38:6.7}),(205,{4:-1.6,9:-1.6,19:-1.6,38:1.6}),(206,{9:-1.6,19:-1.6}),(207,{9:-1.6,14:-1.6,19:-1.6}),
 (209,{4:-2.6,9:-1.6,14:-1.6,19:-1.6,26:-2.6,28:2.6,35:2.6}),(210,{9:-1.6,14:-1.6,18:-1.6}),(211,{14:-1.6,18:-1.6,42:-2.6}),(212,{14:-1.6}),
 (213,{2:4.2,9:-4.2,14:-2.6,17:2.6,24:2.6,34:2.6,36:-2.6,38:-1.6,41:-1.6}),(214,{9:-2.6,36:-1.6}),(215,{9:-2.6,17:2.6,19:2.6,38:-1.6,41:-1.6}),(216,{17:2.6,34:1.6}),(217,{41:-1.6,24:1.6}),
 (218,{3:-1.6,9:-1.6,14:-4.2,17:4.2,18:4.2,24:2.6,26:-1.6,36:-1.6,41:-1.6}),(219,{3:-1.6,9:-1.6,14:-2.6,36:-1.6,41:-1.6}),(220,{3:-1.6,9:-1.6,36:-1.6,38:-1.6}),
 (221,{3:-1.6,9:-1.6,14:2.6,19:4.2,26:-1.6,34:-1.6,38:2.6,41:-2.6}),(222,{3:-1.6,9:-1.6}),
 (224,{4:2.6,8:-1.6,9:-1.6,17:4.2,19:-2.6,35:-1.6}),(226,{8:-1.6,9:-1.6,19:4.2,41:-2.6}),(228,{9:-2.6}),
 (229,{4:4.2,8:-1.6,9:-1.6,14:-2.6,18:2.6,36:1.6,42:-1.6}),(233,{4:-2.6,25:2.6,26:2.6,27:2.6,35:1.6,37:2.6,41:-1.6}),(235,{14:-1.6,41:-1.6}),
 (237,{3:-1.6,7:-2.6,9:-2.6,14:-1.6,18:4.2,19:4.2,25:-1.6,27:4.2,34:-2.6,41:-6.7}),(238,{3:-1.6,14:-1.6,27:2.6,34:-1.6,41:-1.6}),
 (240,{41:-1.6}),(241,{26:-1.6,41:-1.6}),(243,{9:-1.6}),(244,{3:-1.6,4:-1.6,9:-2.6,41:-1.6,42:-4.2}),
 (245,{3:2.6,4:-10.8,9:2.6,13:-1.6,14:-4.2,18:4.2,25:-4.2,26:-4.2,27:-4.2,36:6.7,37:10.8,38:-6.7,42:4.2}),
 (246,{14:-2.6,19:-4.2,37:6.7,3:-1.6}),(247,{3:-1.6,9:-1.6,25:2.6,35:1.6}),(249,{28:-2.6,35:1.6,36:1.6,38:1.6}),
 (251,{19:-1.6}),(252,{14:-2.6,19:-4.2,38:-1.6}),
]

CAPTION_LINES = [
 "{b:Fig.} {b:3} Hierarchical clustering of expression patterns in AtGenExpress",
 "hormone datasets. Shown are heat maps for ({b:a}) 267 genes more",
 "highly expressed in wild type and ({b:b}) 254 genes more highly",
 "expressed in {i:fbs1–1} plants. Data set abbreviations are 1-",
 "aminocyclopropane-1-carboxylic acid (ACC, ethylene), methyl jasmonate",
 "(JA), indole-3-acetic acid (IAA, auxin), abscisic acid (ABA), gibberellin",
 "(GA3), Brassinosteroids (BR), Cytokinin (CTKN). For each treatment,",
 "the exposure time for the given chemical increases from left to",
 "right. Genes are hierarchically clustered on the y-axis according",
 "to expression profile similarity",
]
CAPTION_LEFT = 26.5
CAPTION_RIGHT = [617, 582, 558, 539, 614, 571, 622, 611, 601, 297]

# ---------- layout (pixels of the output image) ----------
PANEL_A = dict(x0=165.7, x1=304.0, y0=75.0, y1=1310.0, bar=(68, 73.5), labels_y=65,
               label_x=[174, 188, 205, 223, 245, 278, 298])
PANEL_B = dict(x0=400.0, x1=538.3, y0=75.0, y1=1248.0, bar=(68, 73.5), labels_y=62.5,
               label_x=[408, 424, 439, 457, 480, 512, 532])

plt.rcParams['font.family'] = ['Open Sans', 'DejaVu Sans']
fig = plt.figure(figsize=(W / 100, H / 100), dpi=100, facecolor="white")
page = fig.add_axes([0, 0, 1, 1])
page.set_xlim(0, W)
page.set_ylim(H, 0)
page.axis("off")

FOLDS = np.array(FOLD_LEVELS)


def level(fold):
    return np.sign(fold) * int(np.argmin(np.abs(FOLDS - abs(fold))))


ramp = DOWN_COLORS[:0:-1] + UP_COLORS
CMAP = LinearSegmentedColormap.from_list("fold", ramp, N=512)
NORM = Normalize(-10, 10)


def px_axes(x0, x1, y0, y1):
    return fig.add_axes([x0 / W, 1 - y1 / H, (x1 - x0) / W, (y1 - y0) / H])


def draw_panel(panel, genes, rows):
    matrix = np.zeros((genes, sum(TREATMENT_COLUMNS)))
    for chunk in rows:
        for row, cells in chunk:
            for col, fold in cells.items():
                matrix[row, col] = level(fold)
    ax = px_axes(panel["x0"], panel["x1"], panel["y0"], panel["y1"])
    ax.imshow(matrix, cmap=CMAP, norm=NORM, aspect="auto",
              interpolation="gaussian", interpolation_stage="rgba")
    ax.axis("off")
    # pale dashed margin at the left of the map
    page.plot([panel["x0"] - 1.5] * 2, [panel["y0"], panel["y1"]], color="#e4e4e4",
              lw=1.6, ls=(0, (1.2, 2.2)), zorder=1)
    # treatment colour strip and labels
    cw = (panel["x1"] - panel["x0"]) / sum(TREATMENT_COLUMNS)
    left = panel["x0"]
    for n, c, name, lx in zip(TREATMENT_COLUMNS, TREATMENT_COLORS, TREATMENTS, panel["label_x"]):
        page.add_patch(Rectangle((left, panel["bar"][0]), n * cw, panel["bar"][1] - panel["bar"][0],
                                 fc=c, ec="none"))
        page.text(lx, panel["labels_y"], name, rotation=90, ha="center", va="bottom",
                  fontsize=10, fontweight="bold", color="#111111")
        left += n * cw


draw_panel(PANEL_A, A_GENES, [A_TOP, A_MIDDLE, A_BOTTOM])
draw_panel(PANEL_B, B_GENES, [B_TOP, B_MIDDLE, B_BOTTOM])

# panel letters
page.text(127.5, 84.5, "A", fontsize=23, fontweight="bold", family="Liberation Sans", ha="center", va="baseline", color="black")
page.text(373, 84.5, "B", fontsize=23, fontweight="bold", family="Liberation Sans", ha="center", va="baseline", color="black")

# annotation bars and their labels
for x0, x1, y0, y1 in [(156, 161, 329, 518), (144.5, 149.5, 504, 679), (543, 548, 74, 207)]:
    page.add_patch(Rectangle((x0, y0), x1 - x0, y1 - y0, fc="black", ec="none"))
page.text(111, 432, "ABA", fontsize=22, ha="center", va="baseline", color="#111111")
page.text(112.5, 600, "JA", fontsize=21.5, ha="center", va="baseline", color="#111111")
page.text(587.5, 145, "ABA", fontsize=18.7, ha="center", va="baseline", color="#111111")

# fold-change legend
leg = px_axes(84, 124, 1111, 1287)
legend_matrix = np.array([[i, -i] for i in range(len(FOLD_LEVELS))])
leg.imshow(legend_matrix, cmap=CMAP, norm=NORM, aspect="auto", interpolation="nearest")
leg.axis("off")
for i, lab in enumerate(LEGEND_LABELS):
    page.text(78.5, 1119 + i * 16, lab, ha="right", va="center", fontsize=8.8, color="#333333")
page.text(98, 1058, "Fold Change", ha="center", va="center", fontsize=12, fontweight="bold", color="#111111")
page.text(92, 1102, "+", ha="center", va="center", fontsize=12.5, fontweight="bold", color="#111111")
page.text(114, 1101, "-", ha="center", va="center", fontsize=12.5, fontweight="bold", color="#111111")

# rounded page frame
L, T, R = 14.5, 10.5, 10
verts = [(L, H + 5), (L, T + R), (L, T), (L + R, T), (W + 5, T)]
codes = [Path.MOVETO, Path.LINETO, Path.CURVE3, Path.CURVE3, Path.LINETO]
page.add_patch(PathPatch(Path(verts, codes), fc="none", ec="#333333", lw=1.2))

# justified caption
fig.canvas.draw()
renderer = fig.canvas.get_renderer()
TOKEN = re.compile(r"\{([bi]):(.*?)\}")
CAPTION_SIZE = 13.0


def pieces(word):
    out, pos = [], 0
    for m in TOKEN.finditer(word):
        if m.start() > pos:
            out.append((word[pos:m.start()], ""))
        out.append((m.group(2), m.group(1)))
        pos = m.end()
    if pos < len(word):
        out.append((word[pos:], ""))
    return out


def place_word(word, x, y):
    for txt, st in pieces(word):
        t = page.text(x, y, txt, fontsize=CAPTION_SIZE, color="#333333", va="baseline", ha="left",
                      fontweight="bold" if st == "b" else "normal",
                      fontstyle="italic" if st == "i" else "normal")
        x += t.get_window_extent(renderer).width + 0.3
    return x


def word_width(word):
    x = 0
    for txt, st in pieces(word):
        t = page.text(0, 0, txt, fontsize=CAPTION_SIZE, fontweight="bold" if st == "b" else "normal",
                      fontstyle="italic" if st == "i" else "normal")
        x += t.get_window_extent(renderer).width + 0.3
        t.remove()
    return x


for i, (line, right) in enumerate(zip(CAPTION_LINES, CAPTION_RIGHT)):
    words = re.findall(r"(?:\{[bi]:.*?\}|[^\s{])+", line)
    widths = [word_width(w) for w in words]
    gap = (right - CAPTION_LEFT - sum(widths)) / max(len(words) - 1, 1)
    x = CAPTION_LEFT
    y = 1343 + i * 26.65
    for w, wd in zip(words, widths):
        place_word(w, x, y)
        x += wd + gap

fig.savefig("out.png", dpi=100, facecolor="white")
